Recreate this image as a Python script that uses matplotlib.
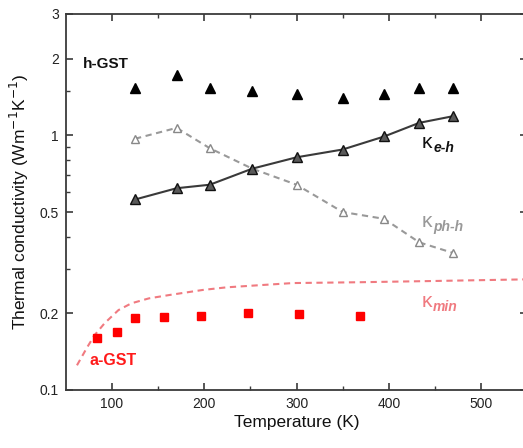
import matplotlib
matplotlib.use("Agg")
import matplotlib.pyplot as plt
from matplotlib.ticker import FixedLocator, FixedFormatter, NullFormatter

plt.rcParams['font.family'] = ['Liberation Sans', 'DejaVu Sans']

# ---- data ----
T_h = [125, 170, 206, 252, 300, 350, 395, 433, 470]
k_hGST = [1.53, 1.72, 1.54, 1.49, 1.46, 1.40, 1.46, 1.53, 1.53]
k_eh = [0.56, 0.62, 0.64, 0.74, 0.82, 0.88, 0.99, 1.12, 1.19]
k_phh = [0.97, 1.07, 0.89, 0.74, 0.64, 0.50, 0.47, 0.38, 0.345]

T_a = [84, 105, 125, 156, 196, 247, 303, 369]
k_aGST = [0.160, 0.169, 0.192, 0.193, 0.195, 0.200, 0.199, 0.195]

T_min = [62, 73, 81, 92, 107, 121, 140, 162, 198, 224, 260, 296, 369, 450, 550]
k_min = [0.125, 0.147, 0.164, 0.183, 0.206, 0.219, 0.229, 0.236, 0.247, 0.253,
         0.258, 0.263, 0.265, 0.268, 0.272]

x_ticks = [100, 200, 300, 400, 500]
y_ticks = [0.1, 0.2, 0.5, 1, 2, 3]
y_tick_labels = ['0.1', '0.2', '0.5', '1', '2', '3']
y_minor = [0.3, 0.4, 0.6, 0.7, 0.8, 0.9, 1.5]

fig = plt.figure(figsize=(5.23, 4.48), dpi=100)
ax = fig.add_axes([0.126, 0.1295, 0.882, 0.8395])

ax.set_yscale('log')
ax.set_xlim(50, 550)
ax.set_ylim(0.1, 3)

# kappa_min dashed curve
ax.plot(T_min, k_min, ls=(0, (3, 2.2)), color='#f07a80', lw=1.5, zorder=2)

# kappa_ph-h
ax.plot(T_h, k_phh, ls=(0, (3, 2.2)), color='#999999', lw=1.5,
        marker='^', ms=6, mfc='white', mec='#888888', mew=1.0, zorder=3)
# kappa_e-h
ax.plot(T_h, k_eh, ls='-', color='#3a3a3a', lw=1.5,
        marker='^', ms=6.5, mfc='#5a5a5a', mec='#111111', mew=1.0, zorder=4)
# h-GST total
ax.plot(T_h, k_hGST, ls='none', marker='^', ms=7.3, mfc='black', mec='black', zorder=5)
# a-GST
ax.plot(T_a, k_aGST, ls='none', marker='s', ms=6.3, mfc='#ff0000', mec='#ff0000', zorder=5)

# ticks
ax.xaxis.set_major_locator(FixedLocator(x_ticks))
ax.xaxis.set_minor_locator(FixedLocator([150, 250, 350, 450]))
ax.yaxis.set_major_locator(FixedLocator(y_ticks))
ax.yaxis.set_major_formatter(FixedFormatter(y_tick_labels))
ax.yaxis.set_minor_locator(FixedLocator(y_minor))
ax.yaxis.set_minor_formatter(NullFormatter())

spine_c = '#3a3a3a'
for s in ax.spines.values():
    s.set_color(spine_c)
    s.set_linewidth(1.3)
ax.tick_params(which='both', direction='in', top=True, right=True, color=spine_c,
               labelsize=10, labelcolor='#222222')
ax.tick_params(which='major', length=5, width=1.2, pad=5)
ax.tick_params(which='minor', length=3, width=1.0)
ax.tick_params(axis='y', which='minor', right=False)

ax.set_xlabel('Temperature (K)', fontsize=12.5, color='#111111', labelpad=3)
ax.set_ylabel('Thermal conductivity (Wm$^{-1}$K$^{-1}$)', fontsize=12.5,
              color='#111111', labelpad=6)

# text labels
ax.text(68, 1.91, 'h-GST', fontsize=11, fontweight='bold', color='#111111',
        va='center', ha='left')
ax.text(76, 0.13, 'a-GST', fontsize=11.5, fontweight='bold', color='#ff1a1a',
        va='center', ha='left')

def kappa_label(x, y, sub, color):
    ax.text(x, y, '\u03ba', fontsize=15, color=color, va='center', ha='left')
    ax.annotate(sub, xy=(x, y), xytext=(8, -4), textcoords='offset points',
                fontsize=10, fontweight='bold', fontstyle='italic', color=color,
                va='center', ha='left')

kappa_label(436, 0.94, 'e-h', '#111111')
kappa_label(436, 0.46, 'ph-h', '#999999')
kappa_label(436, 0.223, 'min', '#f07a80')

fig.savefig('out.png', dpi=100)
